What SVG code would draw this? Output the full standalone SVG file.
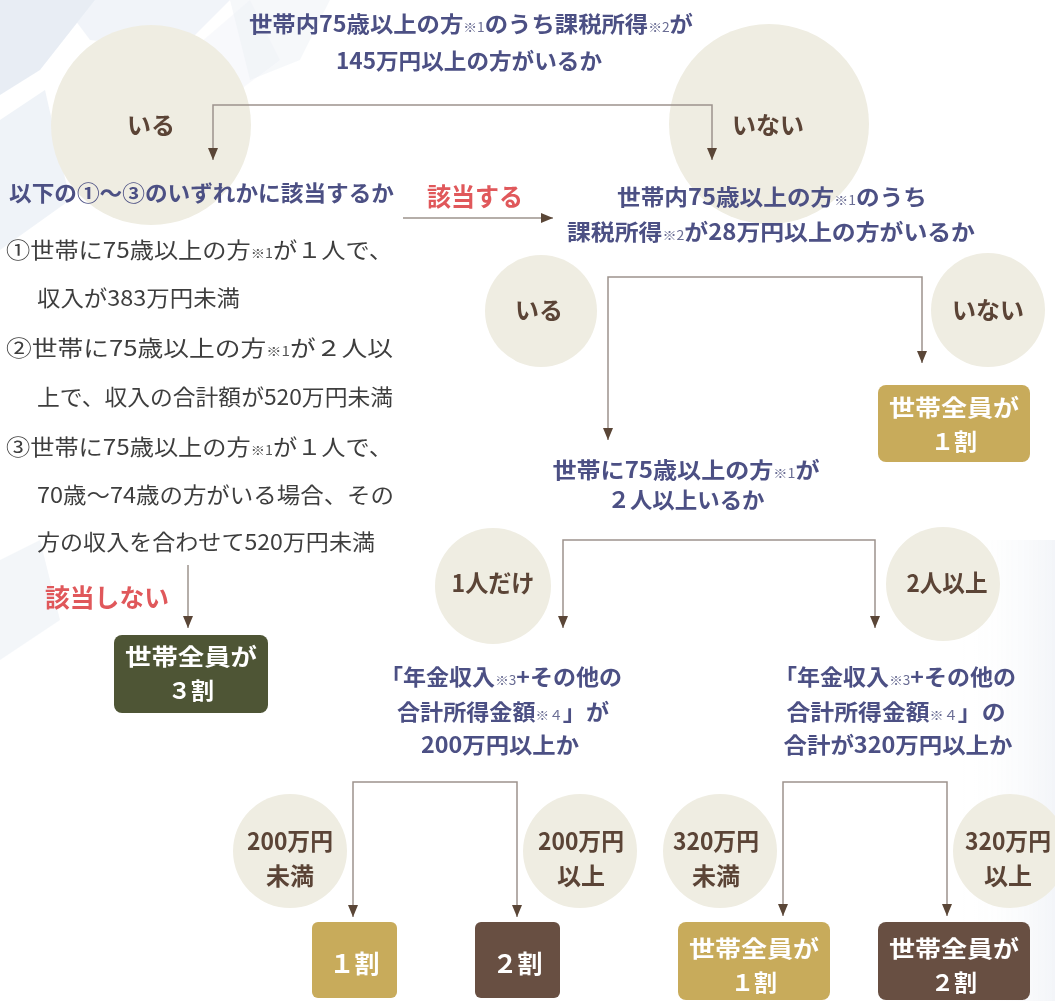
<svg xmlns="http://www.w3.org/2000/svg" width="1055" height="1001" viewBox="0 0 1055 1001">
<defs>
<style>
text{font-family:"Noto Sans CJK JP","Noto Sans",sans-serif;}
.q{font-weight:700;fill:#4c5084;font-size:22px;}
.n{font-size:13px;font-weight:400;fill:#6a6d94;}
.li{font-weight:400;fill:#3e3e3e;font-size:22px;}
.ln{font-size:13px;fill:#555;}
.red{font-weight:700;fill:#e0585b;font-size:25px;}
.ct{font-weight:700;fill:#5b4436;font-size:24px;text-anchor:middle;}
.bt{font-weight:700;fill:#fff;font-size:25px;text-anchor:middle;}
.bt2{font-weight:700;fill:#fff;font-size:23px;text-anchor:middle;}
.circ{fill:#efede2;}
.gold{fill:#c8ab5b;}
.brown{fill:#684f42;}
.olive{fill:#4e5535;}
.conn{fill:none;stroke:#9d938d;stroke-width:1.5;}
.deco{fill:#d6dfec;}
</style>
<marker id="ah" viewBox="0 0 12 10" refX="12" refY="5" markerWidth="12" markerHeight="10" markerUnits="userSpaceOnUse" orient="auto"><path d="M0,0 L12,5 L0,10 z" fill="#5a4637"/></marker>
<linearGradient id="fadeR" x1="0" y1="0" x2="1" y2="0"><stop offset="0" stop-color="#ffffff" stop-opacity="0"/><stop offset="1" stop-color="#e3e8f0" stop-opacity="0.8"/></linearGradient>
</defs>
<rect width="1055" height="1001" fill="#ffffff"/>
<g id="background" opacity="0.55">
<polygon class="deco" points="0,0 95,0 40,70 0,95"/>
<polygon class="deco" points="60,0 230,0 180,50 90,40" opacity="0.6"/>
<polygon class="deco" points="0,120 45,90 70,200 0,250" opacity="0.7"/>
<polygon class="deco" points="230,0 330,0 300,60 250,80" opacity="0.4"/>
<polygon class="deco" points="0,560 40,540 60,620 0,660" opacity="0.5"/>
<polygon class="deco" points="250,0 280,60 200,120 180,60" opacity="0.3"/>
<rect x="960" y="540" width="95" height="461" fill="url(#fadeR)"/>
</g>

<g id="q1">
<text class="q" x="471" y="32" text-anchor="middle" textLength="444" lengthAdjust="spacingAndGlyphs">世帯内75歳以上の方<tspan class="n">※1</tspan>のうち課税所得<tspan class="n">※2</tspan>が</text>
<text class="q" x="469" y="69" text-anchor="middle" textLength="266" lengthAdjust="spacingAndGlyphs">145万円以上の方がいるか</text>
</g>
<g id="yes1"><circle class="circ" cx="151" cy="125" r="100"/><text class="ct" x="151" y="134" font-size="25">いる</text></g>
<g id="no1"><circle class="circ" cx="769" cy="124" r="100"/><text class="ct" x="768" y="134" font-size="25">いない</text></g>

<g id="q2">
<text class="q" x="9" y="201" textLength="385" lengthAdjust="spacingAndGlyphs">以下の①〜③のいずれかに該当するか</text>
<text class="li" x="6" y="258" textLength="387" lengthAdjust="spacingAndGlyphs">①世帯に75歳以上の方<tspan class="ln">※1</tspan>が１人で、</text>
<text class="li" x="37" y="306" textLength="203" lengthAdjust="spacingAndGlyphs">収入が383万円未満</text>
<text class="li" x="6" y="356" textLength="387" lengthAdjust="spacingAndGlyphs">②世帯に75歳以上の方<tspan class="ln">※1</tspan>が２人以</text>
<text class="li" x="37" y="405" textLength="356" lengthAdjust="spacingAndGlyphs">上で、収入の合計額が520万円未満</text>
<text class="li" x="6" y="455" textLength="387" lengthAdjust="spacingAndGlyphs">③世帯に75歳以上の方<tspan class="ln">※1</tspan>が１人で、</text>
<text class="li" x="37" y="503" textLength="357" lengthAdjust="spacingAndGlyphs">70歳〜74歳の方がいる場合、その</text>
<text class="li" x="37" y="550" textLength="338" lengthAdjust="spacingAndGlyphs">方の収入を合わせて520万円未満</text>
</g>
<g id="lbl-yes"><text class="red" x="427" y="206" textLength="96" lengthAdjust="spacingAndGlyphs">該当する</text></g>
<g id="lbl-no"><text class="red" x="45" y="607" textLength="124" lengthAdjust="spacingAndGlyphs">該当しない</text></g>
<g id="r3"><rect class="olive" x="114" y="635" width="154" height="78" rx="8"/><text class="bt2"><tspan x="191" y="665" textLength="132" lengthAdjust="spacingAndGlyphs">世帯全員が</tspan><tspan x="191" y="699">３割</tspan></text></g>

<g id="q3">
<text class="q" x="772" y="205" text-anchor="middle" textLength="310" lengthAdjust="spacingAndGlyphs">世帯内75歳以上の方<tspan class="n">※1</tspan>のうち</text>
<text class="q" x="771" y="240" text-anchor="middle" textLength="408" lengthAdjust="spacingAndGlyphs">課税所得<tspan class="n">※2</tspan>が28万円以上の方がいるか</text>
</g>
<g id="yes2"><circle class="circ" cx="541" cy="311" r="56"/><text class="ct" x="539" y="319">いる</text></g>
<g id="no2"><circle class="circ" cx="988" cy="310" r="57"/><text class="ct" x="988" y="319">いない</text></g>
<g id="r1a"><rect class="gold" x="878" y="385" width="152" height="77" rx="8"/><text class="bt2"><tspan x="954" y="416" textLength="130" lengthAdjust="spacingAndGlyphs">世帯全員が</tspan><tspan x="954" y="450">１割</tspan></text></g>

<g id="q4">
<text class="q" x="686" y="478" text-anchor="middle" textLength="267" lengthAdjust="spacingAndGlyphs">世帯に75歳以上の方<tspan class="n">※1</tspan>が</text>
<text class="q" x="686" y="508" text-anchor="middle" textLength="157" lengthAdjust="spacingAndGlyphs">２人以上いるか</text>
</g>
<g id="one"><circle class="circ" cx="493" cy="586" r="58"/><text class="ct" x="493" y="592" textLength="83" lengthAdjust="spacingAndGlyphs">1人だけ</text></g>
<g id="two"><circle class="circ" cx="943" cy="584" r="57"/><text class="ct" x="947" y="592" textLength="81" lengthAdjust="spacingAndGlyphs">2人以上</text></g>

<g id="q5">
<text class="q" x="501" y="685" text-anchor="middle" textLength="242" lengthAdjust="spacingAndGlyphs">「年金収入<tspan class="n">※3</tspan>+その他の</text>
<text class="q" x="503" y="720" text-anchor="middle" textLength="212" lengthAdjust="spacingAndGlyphs">合計所得金額<tspan class="n">※４</tspan>」が</text>
<text class="q" x="500" y="753" text-anchor="middle" textLength="158" lengthAdjust="spacingAndGlyphs">200万円以上か</text>
</g>
<g id="q6">
<text class="q" x="895" y="685" text-anchor="middle" textLength="242" lengthAdjust="spacingAndGlyphs">「年金収入<tspan class="n">※3</tspan>+その他の</text>
<text class="q" x="896" y="720" text-anchor="middle" textLength="219" lengthAdjust="spacingAndGlyphs">合計所得金額<tspan class="n">※４</tspan>」の</text>
<text class="q" x="898" y="753" text-anchor="middle" textLength="229" lengthAdjust="spacingAndGlyphs">合計が320万円以上か</text>
</g>

<g id="c200lt"><circle class="circ" cx="290" cy="851" r="57"/><text class="ct" x="290" y="850" textLength="86" lengthAdjust="spacingAndGlyphs">200万円</text><text class="ct" x="290" y="885">未満</text></g>
<g id="c200ge"><circle class="circ" cx="580" cy="851" r="57"/><text class="ct" x="581" y="850" textLength="86" lengthAdjust="spacingAndGlyphs">200万円</text><text class="ct" x="581" y="885">以上</text></g>
<g id="c320lt"><circle class="circ" cx="720" cy="851" r="57"/><text class="ct" x="716" y="850" textLength="86" lengthAdjust="spacingAndGlyphs">320万円</text><text class="ct" x="716" y="885">未満</text></g>
<g id="c320ge"><circle class="circ" cx="1010" cy="851" r="57"/><text class="ct" x="1008" y="850" textLength="86" lengthAdjust="spacingAndGlyphs">320万円</text><text class="ct" x="1008" y="885">以上</text></g>

<g id="b1"><rect class="gold" x="312" y="922" width="85" height="76" rx="6"/><text class="bt" x="354.5" y="973">１割</text></g>
<g id="b2"><rect class="brown" x="475" y="922" width="85" height="76" rx="6"/><text class="bt" x="517.5" y="973">２割</text></g>
<g id="b3"><rect class="gold" x="678" y="922" width="152" height="78" rx="8"/><text class="bt2"><tspan x="754" y="957" textLength="130" lengthAdjust="spacingAndGlyphs">世帯全員が</tspan><tspan x="754" y="991">１割</tspan></text></g>
<g id="b4"><rect class="brown" x="878" y="922" width="152" height="78" rx="8"/><text class="bt2"><tspan x="954" y="957" textLength="130" lengthAdjust="spacingAndGlyphs">世帯全員が</tspan><tspan x="954" y="991">２割</tspan></text></g>

<g id="connectors" class="conn" marker-end="url(#ah)">
<path d="M463,105 H213 V160"/>
<path d="M463,105 H712 V160"/>
<path d="M403,218 H553"/>
<path d="M188,565 V628"/>
<path d="M765,277 H608 V440"/>
<path d="M765,277 H922 V363"/>
<path d="M719,540 H563 V628"/>
<path d="M719,540 H875 V628"/>
<path d="M435,782 H353 V917"/>
<path d="M435,782 H517 V917"/>
<path d="M865,782 H783 V916"/>
<path d="M865,782 H947 V916"/>
</g>
</svg>
